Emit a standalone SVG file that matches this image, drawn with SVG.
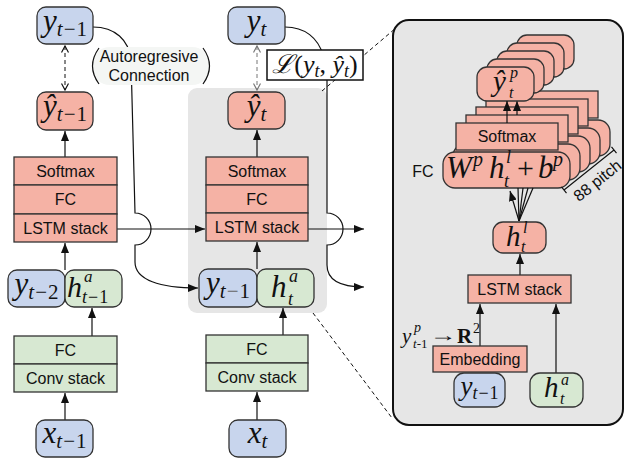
<svg xmlns="http://www.w3.org/2000/svg" width="625" height="459" viewBox="0 0 625 459">
<style>
.b{fill:#c8d5ed;stroke:#333;stroke-width:1.3}
.r{fill:#f5b2a5;stroke:#333;stroke-width:1.3}
.g{fill:#d7e8d2;stroke:#333;stroke-width:1.3}
.s{font-family:"Liberation Sans",Arial,sans-serif;font-size:16px;text-anchor:middle;fill:#111}
.m{font-family:"Liberation Serif","DejaVu Serif",serif;font-style:italic;fill:#111}
.u{font-style:normal}
.c{fill:none;stroke:#111;stroke-width:1.2}
.a{marker-end:url(#ah)}
.d{fill:none;stroke:#111;stroke-width:1;stroke-dasharray:4 3}
</style>
<defs>
<marker id="ah" viewBox="0 0 10 8" refX="10" refY="4" markerWidth="10" markerHeight="8" markerUnits="userSpaceOnUse" orient="auto"><path d="M0,0 L10,4 L0,8 z" fill="#111"/></marker>
<marker id="oh" viewBox="0 0 8 8" refX="7" refY="4" markerWidth="8" markerHeight="8" markerUnits="userSpaceOnUse" orient="auto-start-reverse"><path d="M0.5,0.5 L7,4 L0.5,7.5" fill="none" stroke="#111" stroke-width="1.2"/></marker>
<marker id="ohg" viewBox="0 0 8 8" refX="7" refY="4" markerWidth="8" markerHeight="8" markerUnits="userSpaceOnUse" orient="auto-start-reverse"><path d="M0.5,0.5 L7,4 L0.5,7.5" fill="none" stroke="#777" stroke-width="1.2"/></marker>
</defs>
<rect width="625" height="459" fill="#fff"/>

<!-- gray highlight box -->
<rect id="highlight" x="188" y="88" width="139" height="225" rx="9" fill="#e6e6e6"/>

<!-- zoom dashed lines -->
<g id="zoomlines">
<line class="d" x1="322" y1="91" x2="397" y2="27"/>
<line class="d" x1="313" y1="313" x2="392" y2="418"/>
</g>

<!-- connectors -->
<g id="connectors">
<line x1="65" y1="46" x2="65" y2="90" class="d" marker-start="url(#oh)" marker-end="url(#oh)"/>
<line x1="257" y1="46" x2="257" y2="90" fill="none" stroke="#777" stroke-width="1" stroke-dasharray="4 3" marker-start="url(#ohg)" marker-end="url(#ohg)"/>
<line class="c a" x1="65" y1="157" x2="65" y2="131"/>
<line class="c a" x1="257" y1="157" x2="257" y2="130"/>
<line class="c a" x1="117" y1="229" x2="205" y2="229"/>
<line class="c a" x1="308" y1="229" x2="364" y2="229"/>
<line class="c a" x1="65" y1="270" x2="65" y2="243"/>
<line class="c a" x1="257" y1="269" x2="257" y2="242"/>
<line class="c a" x1="92" y1="336" x2="92" y2="308"/>
<line class="c a" x1="283" y1="335" x2="283" y2="308"/>
<line class="c a" x1="65" y1="420" x2="65" y2="393"/>
<line class="c a" x1="257" y1="420" x2="257" y2="392"/>
<path class="c a" d="M93,27 C115,27 129,40 131,60 L135,213 A16,16 0 0 1 135,245 L135,262 C135,280 160,288 198,288"/>
<path class="c a" d="M285,27 C305,27 318,38 323,55 L327,80 L327,213 A16,16 0 0 1 327,245 L327,265 C327,280 340,287 364,287"/>
</g>

<!-- labels on connectors -->
<g id="autoreg-label">
<rect x="92" y="47" width="118" height="38" rx="18" fill="#f4f6f4"/>
<path class="c" d="M99,48 Q86,66 99,84"/>
<path class="c" d="M203,48 Q216,66 203,84"/>
<text class="s" x="149" y="62">Autoregresive</text>
<text class="s" x="149" y="81">Connection</text>
</g>
<g id="loss-label">
<rect x="267" y="50" width="96" height="30" fill="#fff" stroke="#111" stroke-width="1.5"/>
<text class="m" x="315" y="73" font-size="26" text-anchor="middle"><tspan>ℒ</tspan><tspan class="u">(</tspan>y<tspan font-size="18" dy="4">t</tspan><tspan class="u" dy="-4">, </tspan>ŷ<tspan font-size="18" dy="4">t</tspan><tspan class="u" dy="-4">)</tspan></text>
</g>

<!-- left column -->
<g id="y_tm1_top">
<rect class="b" x="37" y="7" width="56" height="37" rx="9"/>
<text class="m" x="65" y="31" font-size="31" text-anchor="middle">y<tspan font-size="21" dy="5">t</tspan><tspan class="u" font-size="21" dx="1">−</tspan><tspan class="u" font-size="21" dx="1">1</tspan></text>
</g>
<g id="yhat_tm1">
<rect class="r" x="37" y="92" width="56" height="38" rx="9"/>
<text class="m" x="65" y="116" font-size="31" text-anchor="middle">ŷ<tspan font-size="21" dy="5">t</tspan><tspan class="u" font-size="21" dx="1">−</tspan><tspan class="u" font-size="21" dx="1">1</tspan></text>
</g>
<g id="stack_left">
<rect class="r" x="14" y="157" width="103" height="28"/>
<rect class="r" x="14" y="185" width="103" height="29"/>
<rect class="r" x="14" y="214" width="103" height="28"/>
<text class="s" x="65.5" y="177">Softmax</text>
<text class="s" x="65.5" y="205">FC</text>
<text class="s" x="65.5" y="234">LSTM stack</text>
</g>
<g id="y_tm2">
<rect class="b" x="8" y="270" width="57" height="37" rx="9"/>
<text class="m" x="36.5" y="294" font-size="31" text-anchor="middle">y<tspan font-size="21" dy="5">t</tspan><tspan class="u" font-size="21" dx="1">−</tspan><tspan class="u" font-size="21" dx="1">2</tspan></text>
</g>
<g id="h_tm1">
<rect class="g" x="65" y="270" width="57" height="37" rx="9"/>
<text class="m" x="67" y="297" font-size="30">h</text>
<text class="m" x="84" y="282" font-size="17">a</text>
<text class="m" x="82" y="303" font-size="18">t<tspan class="u" dx="1">−</tspan><tspan class="u" dx="1">1</tspan></text>
</g>
<g id="conv_left">
<rect class="g" x="14" y="336" width="103" height="28"/>
<rect class="g" x="14" y="364" width="103" height="28"/>
<text class="s" x="65.5" y="356">FC</text>
<text class="s" x="65.5" y="384">Conv stack</text>
</g>
<g id="x_tm1">
<rect class="b" x="36" y="420" width="57" height="37" rx="9"/>
<text class="m" x="64.5" y="443" font-size="31" text-anchor="middle">x<tspan font-size="21" dy="5">t</tspan><tspan class="u" font-size="21" dx="1">−</tspan><tspan class="u" font-size="21" dx="1">1</tspan></text>
</g>

<!-- middle column -->
<g id="y_t">
<rect class="b" x="228" y="7" width="57" height="37" rx="9"/>
<text class="m" x="256.5" y="31" font-size="31" text-anchor="middle">y<tspan font-size="21" dy="5">t</tspan></text>
</g>
<g id="yhat_t">
<rect class="r" x="228" y="92" width="57" height="37" rx="9"/>
<text class="m" x="256.5" y="116" font-size="31" text-anchor="middle">ŷ<tspan font-size="21" dy="5">t</tspan></text>
</g>
<g id="stack_mid">
<rect class="r" x="206" y="157" width="102" height="28"/>
<rect class="r" x="206" y="185" width="102" height="28"/>
<rect class="r" x="206" y="213" width="102" height="28"/>
<text class="s" x="257" y="177">Softmax</text>
<text class="s" x="257" y="205">FC</text>
<text class="s" x="257" y="233">LSTM stack</text>
</g>
<g id="y_tm1_mid">
<rect class="b" x="199" y="269" width="58" height="38" rx="9"/>
<text class="m" x="228" y="293" font-size="31" text-anchor="middle">y<tspan font-size="21" dy="5">t</tspan><tspan class="u" font-size="21" dx="1" fill="#666">−</tspan><tspan class="u" font-size="21" dx="1">1</tspan></text>
</g>
<g id="h_t_mid">
<rect class="g" x="257" y="269" width="57" height="38" rx="9"/>
<text class="m" x="271" y="297" font-size="31">h</text>
<text class="m" x="289" y="282" font-size="18">a</text>
<text class="m" x="288" y="305" font-size="18">t</text>
</g>
<g id="conv_mid">
<rect class="g" x="206" y="335" width="102" height="28"/>
<rect class="g" x="206" y="363" width="102" height="28"/>
<text class="s" x="257" y="355">FC</text>
<text class="s" x="257" y="383">Conv stack</text>
</g>
<g id="x_t">
<rect class="b" x="229" y="420" width="57" height="37" rx="9"/>
<text class="m" x="257.5" y="443" font-size="31" text-anchor="middle">x<tspan font-size="21" dy="5">t</tspan></text>
</g>

<!-- right detail panel -->
<g id="panel">
<rect x="393" y="20" width="230" height="405" rx="16" fill="#e6e6e6" stroke="#111" stroke-width="2"/>
</g>
<g id="pitch_stack">
<rect class="r" x="483" y="120" width="127" height="36" rx="12"/>
<rect class="r" x="496" y="91" width="102" height="27"/>
<rect class="r" x="517" y="35" width="57" height="34" rx="10"/>
<rect class="r" x="473" y="128" width="127" height="36" rx="12"/>
<rect class="r" x="486" y="99" width="102" height="27"/>
<rect class="r" x="507" y="43" width="57" height="34" rx="10"/>
<rect class="r" x="463" y="136" width="127" height="36" rx="12"/>
<rect class="r" x="476" y="107" width="102" height="27"/>
<rect class="r" x="497" y="51" width="57" height="34" rx="10"/>
<rect class="r" x="453" y="144" width="127" height="36" rx="12"/>
<rect class="r" x="466" y="115" width="102" height="27"/>
<rect class="r" x="487" y="59" width="57" height="34" rx="10"/>
<line class="c a" x1="517" y1="115" x2="517" y2="101"/>
<rect class="r" x="443" y="152" width="127" height="36" rx="12"/>
<rect class="r" x="456" y="123" width="102" height="27"/>
<rect class="r" x="477" y="67" width="57" height="34" rx="10"/>
<line class="c a" x1="507" y1="123" x2="507" y2="101"/>
<text class="m" x="493" y="91" font-size="29">ŷ</text>
<text class="m" x="510" y="78" font-size="16">p</text>
<text class="m" x="509" y="98" font-size="16">t</text>
<text class="s" x="507" y="142">Softmax</text>
<text class="m" x="446" y="178" font-size="31">W</text>
<text class="m" x="473" y="166" font-size="20">p</text>
<text class="m" x="489" y="178" font-size="31">h</text>
<text class="m" x="506" y="163" font-size="18">l</text>
<text class="m" x="504" y="187" font-size="18">t</text>
<text class="m u" x="517" y="178" font-size="30">+</text>
<text class="m" x="538" y="178" font-size="31">b</text>
<text class="m" x="553" y="166" font-size="20">p</text>
</g>
<text id="fc_label" class="s" x="423" y="177" font-size="15">FC</text>
<g id="pitch_bracket">
<path class="c" d="M564,190 L614,150 M561.5,186.9 L566.5,193.1 M611.5,146.9 L616.5,153.1"/>
<text class="s" transform="translate(589,170) rotate(-38.66)" y="19" font-size="17">88 pitch</text>
</g>
<g id="panel_connectors">
<line class="c a" x1="519" y1="221" x2="510" y2="191"/>
<line class="c" x1="519" y1="221" x2="518" y2="188"/>
<line class="c" x1="519" y1="221" x2="523" y2="188"/>
<line class="c" x1="519" y1="221" x2="528" y2="188"/>
<line class="c" x1="519" y1="221" x2="533" y2="188"/>
<line class="c a" x1="520" y1="275" x2="520" y2="254"/>
<line class="c a" x1="480" y1="346" x2="480" y2="304"/>
<line class="c a" x1="556" y1="373" x2="556" y2="304"/>
</g>
<g id="h_t_l">
<rect class="r" x="493" y="222" width="53" height="31" rx="10"/>
<text class="m" x="506" y="246" font-size="29">h</text>
<text class="m" x="523" y="233" font-size="16">l</text>
<text class="m" x="521" y="252" font-size="16">t</text>
</g>
<g id="lstm_panel">
<rect class="r" x="468" y="275" width="103" height="28"/>
<text class="s" x="519.5" y="295">LSTM stack</text>
</g>
<g id="embedding">
<rect class="r" x="433" y="346" width="94" height="26"/>
<text class="s" x="480" y="365">Embedding</text>
</g>
<g id="embed_label">
<text class="m" x="402" y="343" font-size="21">y</text>
<text class="m" x="414" y="332" font-size="14">p</text>
<text class="m" x="413" y="348" font-size="13">t<tspan class="u">-1</tspan></text>
<text class="m u" transform="translate(430,341) scale(1.5,1)" font-size="18">→</text>
<text x="457" y="343" font-family="Liberation Serif,serif" font-weight="bold" font-size="21" fill="#111">R</text>
<text x="473" y="333" font-family="Liberation Serif,serif" font-size="14" fill="#111">2</text>
</g>
<g id="y_tm1_panel">
<rect class="b" x="454" y="373" width="51" height="34" rx="10"/>
<text class="m" x="479.5" y="395" font-size="27" text-anchor="middle">y<tspan font-size="18" dy="4">t</tspan><tspan class="u" font-size="18" dx="1">−</tspan><tspan class="u" font-size="18" dx="1">1</tspan></text>
</g>
<g id="h_t_a_panel">
<rect class="g" x="530" y="373" width="53" height="34" rx="10"/>
<text class="m" x="544" y="397" font-size="29">h</text>
<text class="m" x="561" y="385" font-size="16">a</text>
<text class="m" x="560" y="404" font-size="16">t</text>
</g>
</svg>
